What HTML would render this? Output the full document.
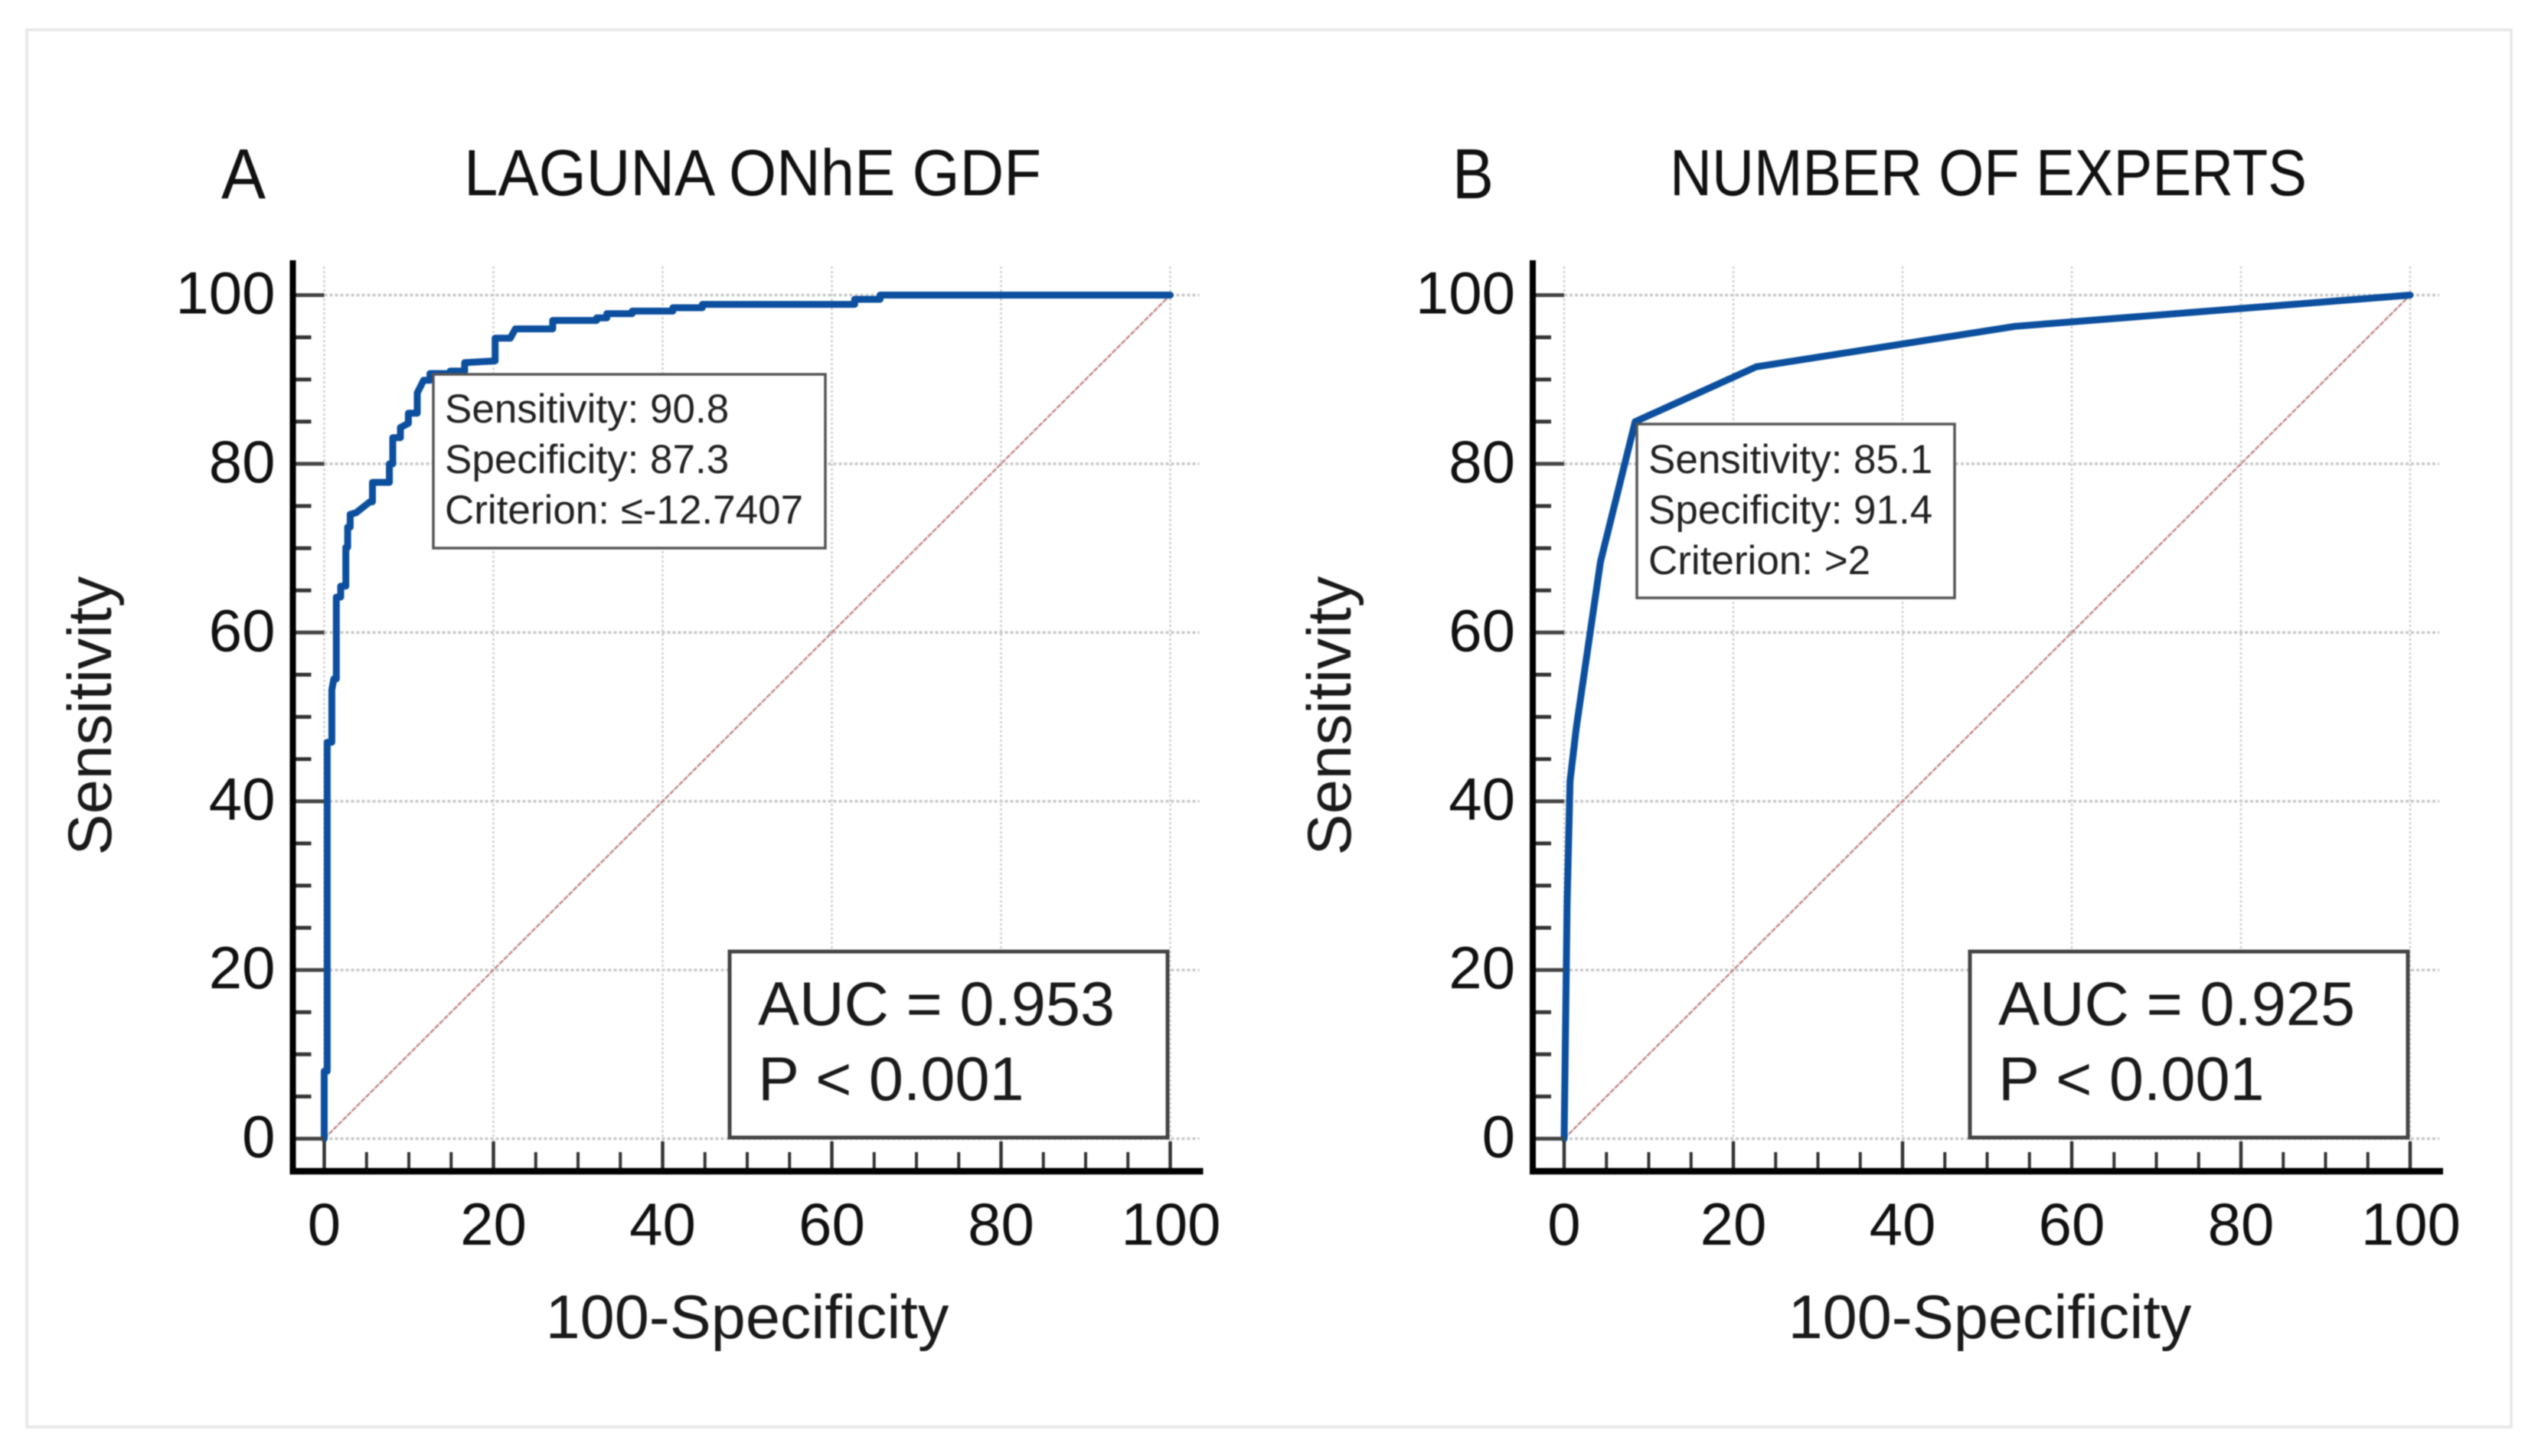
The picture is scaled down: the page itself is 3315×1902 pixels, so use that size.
<!DOCTYPE html>
<html lang="en">
<head>
<meta charset="utf-8">
<title>ROC curves</title>
<style>
html,body{margin:0;padding:0;background:#fff;width:3315px;height:1902px;overflow:hidden}
svg{display:block;filter:blur(.9px)}
text{font-family:"Liberation Sans",Arial,sans-serif;fill:#111}
.tip{font-size:53px;fill:#222}
.auc{font-size:81px;fill:#1a1a1a}
.tick{font-size:78px}
.axt{font-size:81px;fill:#1a1a1a}
.ttl{font-size:85px}
.let{font-size:93px}
</style>
</head>
<body>
<svg id="fig" xmlns="http://www.w3.org/2000/svg" width="3315" height="1902" viewBox="0 0 3315 1902">
  <rect x="35" y="39" width="3245" height="1825" fill="#fff" stroke="#e6e6e6" stroke-width="3.5"/>

  <text class="let" x="289" y="259" textLength="58" lengthAdjust="spacingAndGlyphs">A</text>
  <text class="ttl" x="606" y="255" textLength="754" lengthAdjust="spacingAndGlyphs">LAGUNA ONhE GDF</text>
  <text class="let" x="1897" y="259" textLength="54" lengthAdjust="spacingAndGlyphs">B</text>
  <text class="ttl" x="2181" y="255" textLength="832" lengthAdjust="spacingAndGlyphs">NUMBER OF EXPERTS</text>

  <g id="marks-a"></g>
  <g id="marks-b"></g>

  <g>
    <rect x="566" y="489" width="512" height="227" fill="#fff" stroke="#555" stroke-width="3.5"/>
    <text class="tip" x="581" y="552">Sensitivity: 90.8</text>
    <text class="tip" x="581" y="618">Specificity: 87.3</text>
    <text class="tip" x="581" y="684">Criterion: ≤-12.7407</text>
  </g>
  <g>
    <rect x="953" y="1243" width="572" height="243" fill="#fff" stroke="#444" stroke-width="5"/>
    <text class="auc" x="990" y="1339">AUC = 0.953</text>
    <text class="auc" x="990" y="1437">P &lt; 0.001</text>
  </g>
  <g>
    <rect x="2138" y="554" width="415" height="227" fill="#fff" stroke="#555" stroke-width="3.5"/>
    <text class="tip" x="2153" y="618">Sensitivity: 85.1</text>
    <text class="tip" x="2153" y="684">Specificity: 91.4</text>
    <text class="tip" x="2153" y="750">Criterion: &gt;2</text>
  </g>
  <g>
    <rect x="2573" y="1243" width="572" height="243" fill="#fff" stroke="#444" stroke-width="5"/>
    <text class="auc" x="2610" y="1339">AUC = 0.925</text>
    <text class="auc" x="2610" y="1437">P &lt; 0.001</text>
  </g>

  <text class="axt" x="976" y="1748" text-anchor="middle">100-Specificity</text>
  <text class="axt" transform="translate(145 935) rotate(-90)" text-anchor="middle">Sensitivity</text>
  <text class="axt" x="2599" y="1748" text-anchor="middle">100-Specificity</text>
  <text class="axt" transform="translate(1764 935) rotate(-90)" text-anchor="middle">Sensitivity</text>
</svg>
<script>
var tickLabels = [0, 20, 40, 60, 80, 100];
var minorTicks = [5, 10, 15, 25, 30, 35, 45, 50, 55, 65, 70, 75, 85, 90, 95];
var referenceLine = [0, 100];

var gdfFalsePositive = [0, 0, 0.35, 0.35, 0.9, 0.9, 1.13, 1.43, 1.43, 1.95, 1.95, 2.55, 2.55, 2.77, 2.77, 3.07, 3.07, 3.76, 5.4, 5.7, 5.7, 7.7, 7.7, 8.1, 8.1, 9.0, 9.0, 9.95, 9.95, 11, 11, 11.75, 12.5, 12.5, 14.9, 14.9, 16.6, 16.6, 20.2, 20.2, 22, 22.6, 27, 27, 32.2, 32.2, 33.4, 33.4, 36.4, 36.4, 41.2, 41.2, 44.7, 44.7, 62.7, 62.7, 65.7, 65.7, 100];
var gdfSensitivity = [0, 8, 8, 47, 47, 53.2, 54.5, 54.5, 64.2, 64.2, 65.5, 65.5, 70.1, 70.1, 72.5, 72.5, 74, 74.2, 75.5, 75.5, 77.8, 77.8, 80, 80, 83.1, 83.1, 84.3, 84.8, 86, 86, 88.4, 89.9, 89.9, 90.7, 90.7, 91, 91, 92, 92.2, 94.9, 94.9, 96, 96, 97, 97, 97.3, 97.3, 97.8, 97.8, 98.1, 98.1, 98.5, 98.5, 98.9, 98.9, 99.5, 99.5, 100, 100];

var expertsFalsePositive = [0, 0.35, 0.7, 1.45, 3.1, 4.3, 8.4, 22.7, 53.3, 100];
var expertsSensitivity = [0, 28, 42.4, 48.8, 60.2, 68.4, 85, 91.5, 96.3, 100];

function svgEl(tag, parent) {
  var el = document.createElementNS('http://www.w3.org/2000/svg', tag);
  parent.appendChild(el);
  return el;
}

function drawPanel(layer, left, prefix, xs, ys) {
  function xAxis(v) { return left + v * 11.05; }
  function yAxis(v) { return 1487.5 - v * 11.02; }
  var el, i, v;

  for (i = 0; i < tickLabels.length; i++) {
    v = tickLabels[i];
    el = svgEl('line', layer);
    
    
    el.setAttribute('x1', xAxis(v)); el.setAttribute('x2', xAxis(v));
    el.setAttribute('y1', 348); el.setAttribute('y2', 1492);
    el.setAttribute('stroke', '#cfcfcf'); el.setAttribute('stroke-width', 2.5);
    el.setAttribute('stroke-dasharray', '3 3');

    el = svgEl('line', layer);
    
    
    el.setAttribute('x1', xAxis(0)); el.setAttribute('x2', xAxis(100) + 38);
    el.setAttribute('y1', yAxis(v)); el.setAttribute('y2', yAxis(v));
    el.setAttribute('stroke', '#c8c8c8'); el.setAttribute('stroke-width', 3.5);
    el.setAttribute('stroke-dasharray', '4 3');
  }

  el = svgEl('line', layer);
  
  
  el.setAttribute('x1', xAxis(referenceLine[0])); el.setAttribute('y1', yAxis(referenceLine[0]));
  el.setAttribute('x2', xAxis(referenceLine[1])); el.setAttribute('y2', yAxis(referenceLine[1]));
  el.setAttribute('stroke', '#c58888'); el.setAttribute('stroke-width', 2.5);
  el.setAttribute('stroke-dasharray', '7 1.5');

  var d = '';
  for (i = 0; i < xs.length; i++) {
    d += (i ? 'L' : 'M') + xAxis(xs[i]).toFixed(1) + ' ' + yAxis(ys[i]).toFixed(1);
  }
  el = svgEl('path', layer);
  
  
  el.setAttribute('d', d);
  el.setAttribute('fill', 'none');
  el.setAttribute('stroke', '#0b4f9e');
  el.setAttribute('stroke-width', 9);
  el.setAttribute('stroke-linejoin', 'round');
  el.setAttribute('stroke-linecap', 'round');

  for (i = 0; i < minorTicks.length; i++) {
    v = minorTicks[i];
    el = svgEl('line', layer);
    
    
    el.setAttribute('x1', xAxis(v)); el.setAttribute('x2', xAxis(v));
    el.setAttribute('y1', 1505); el.setAttribute('y2', 1530);
    el.setAttribute('stroke', '#333'); el.setAttribute('stroke-width', 4);

    el = svgEl('line', layer);
    
    
    el.setAttribute('x1', left - 42); el.setAttribute('x2', left - 17);
    el.setAttribute('y1', yAxis(v)); el.setAttribute('y2', yAxis(v));
    el.setAttribute('stroke', '#333'); el.setAttribute('stroke-width', 5);
  }

  for (i = 0; i < tickLabels.length; i++) {
    v = tickLabels[i];
    el = svgEl('line', layer);
    
    
    el.setAttribute('x1', xAxis(v)); el.setAttribute('x2', xAxis(v));
    el.setAttribute('y1', 1491); el.setAttribute('y2', 1530);
    el.setAttribute('stroke', '#333'); el.setAttribute('stroke-width', 4.5);

    el = svgEl('line', layer);
    
    
    el.setAttribute('x1', left - 42); el.setAttribute('x2', left);
    el.setAttribute('y1', yAxis(v)); el.setAttribute('y2', yAxis(v));
    el.setAttribute('stroke', '#444'); el.setAttribute('stroke-width', 5);

    el = svgEl('text', layer);
    
    
    el.setAttribute('class', 'tick');
    el.setAttribute('x', xAxis(v) + (v === 100 ? 1 : 0));
    el.setAttribute('y', 1626);
    el.setAttribute('text-anchor', 'middle');
    el.textContent = v;

    el = svgEl('text', layer);
    
    
    el.setAttribute('class', 'tick');
    el.setAttribute('x', left - 64);
    el.setAttribute('y', yAxis(v) + 24);
    el.setAttribute('text-anchor', 'end');
    el.textContent = v;
  }

  el = svgEl('line', layer);
  
  
  el.setAttribute('x1', left - 41); el.setAttribute('x2', left - 41);
  el.setAttribute('y1', 340); el.setAttribute('y2', 1534);
  el.setAttribute('stroke', '#000'); el.setAttribute('stroke-width', 8);

  el = svgEl('line', layer);
  
  
  el.setAttribute('x1', left - 45); el.setAttribute('x2', left + 1148);
  el.setAttribute('y1', 1530); el.setAttribute('y2', 1530);
  el.setAttribute('stroke', '#000'); el.setAttribute('stroke-width', 8.5);
}

drawPanel(document.getElementById('marks-a'), 423.5, 'gdf', gdfFalsePositive, gdfSensitivity);
drawPanel(document.getElementById('marks-b'), 2043, 'experts', expertsFalsePositive, expertsSensitivity);
</script>
</body>
</html>
